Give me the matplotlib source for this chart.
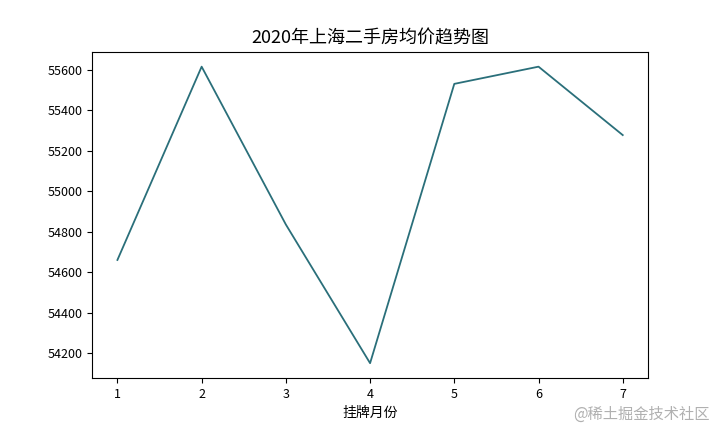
import matplotlib
matplotlib.use("Agg")
import matplotlib.pyplot as plt

plt.rcParams['font.family'] = ['Noto Sans CJK SC', 'DejaVu Sans']
plt.rcParams['axes.unicode_minus'] = False

months = [1, 2, 3, 4, 5, 6, 7]
prices = [54660, 55615, 54835, 54150, 55530, 55615, 55277]

fig = plt.figure(figsize=(7.2, 4.32), dpi=100)
ax = fig.add_axes([0.128, 0.125, 0.772, 0.755])
ax.plot(months, prices, color='#2a6f7a', linewidth=1.3)
ax.set_title('2020年上海二手房均价趋势图', fontsize=13)
ax.set_xlabel('挂牌月份', fontsize=10)
ax.tick_params(labelsize=9)
fig.text(0.985, 0.03, '@稀土掘金技术社区', ha='right', fontsize=11, color='#b0b0b0')
fig.savefig('out.png')
